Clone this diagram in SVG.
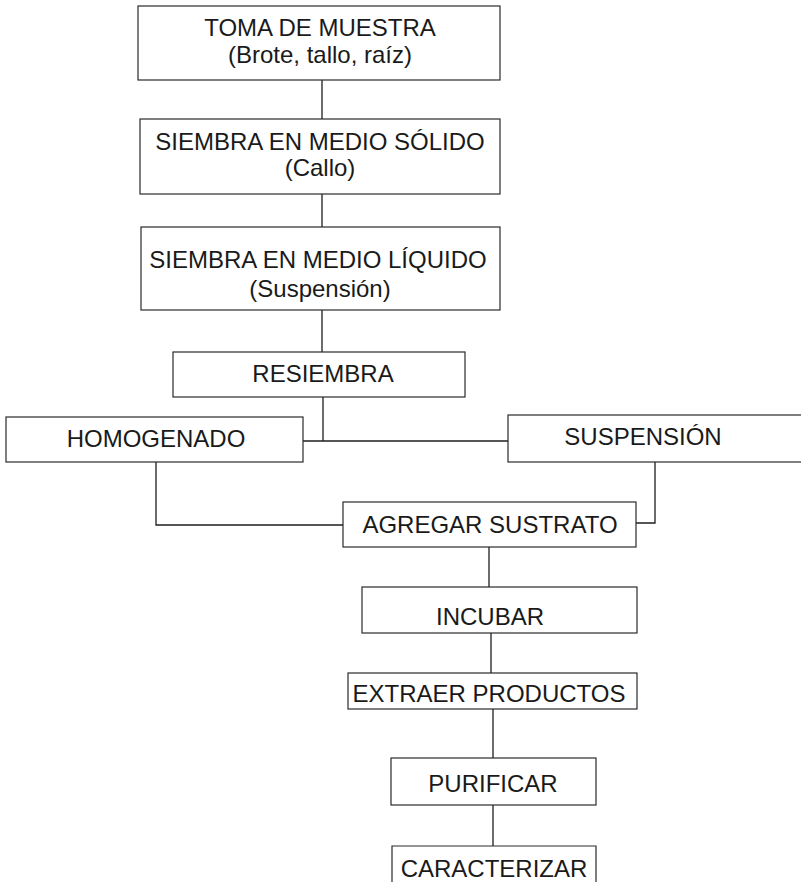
<svg xmlns="http://www.w3.org/2000/svg" width="801" height="890" viewBox="0 0 801 890">
<style>
  .box { fill: #ffffff; stroke: #2a2a2a; stroke-width: 1.2; }
  .lbl { font-family: "Liberation Sans", Arial, sans-serif; font-size: 24px; fill: #1a1a1a; text-anchor: middle; }
  .con { fill: none; stroke: #1e1e1e; stroke-width: 1.3; }
</style>
<rect x="0" y="0" width="801" height="890" fill="#ffffff"/>
<g id="connectors">
  <path class="con" d="M322,80 V119"/>
  <path class="con" d="M322,194 V227"/>
  <path class="con" d="M322,310 V352"/>
  <path class="con" d="M323,397 V441"/>
  <path class="con" d="M303,441 H508"/>
  <path class="con" d="M156,462 V525 H343"/>
  <path class="con" d="M655,462 V523 H636"/>
  <path class="con" d="M489,547 V587"/>
  <path class="con" d="M491,633 V673"/>
  <path class="con" d="M493,709 V758"/>
  <path class="con" d="M493,805 V846"/>
</g>
<g id="n1">
  <rect class="box" x="138" y="6" width="362" height="74"/>
  <text class="lbl" x="320" y="36">TOMA DE MUESTRA</text>
  <text class="lbl" x="320" y="63">(Brote, tallo, raíz)</text>
</g>
<g id="n2">
  <rect class="box" x="140" y="119" width="360" height="75"/>
  <text class="lbl" x="320" y="150">SIEMBRA EN MEDIO SÓLIDO</text>
  <text class="lbl" x="320" y="176">(Callo)</text>
</g>
<g id="n3">
  <rect class="box" x="141" y="227" width="359" height="83"/>
  <text class="lbl" x="318" y="268">SIEMBRA EN MEDIO LÍQUIDO</text>
  <text class="lbl" x="320" y="297">(Suspensión)</text>
</g>
<g id="n4">
  <rect class="box" x="173" y="352" width="292" height="45"/>
  <text class="lbl" x="323" y="382">RESIEMBRA</text>
</g>
<g id="n5">
  <rect class="box" x="6" y="417" width="297" height="45"/>
  <text class="lbl" x="156" y="447">HOMOGENADO</text>
</g>
<g id="n6">
  <rect class="box" x="508" y="415" width="305" height="47"/>
  <text class="lbl" x="643" y="445">SUSPENSIÓN</text>
</g>
<g id="n7">
  <rect class="box" x="343" y="502" width="293" height="45"/>
  <text class="lbl" x="490" y="533">AGREGAR SUSTRATO</text>
</g>
<g id="n8">
  <rect class="box" x="362" y="587" width="275" height="46"/>
  <text class="lbl" x="490" y="625">INCUBAR</text>
</g>
<g id="n9">
  <rect class="box" x="348" y="673" width="289" height="36"/>
  <text class="lbl" x="489" y="702">EXTRAER PRODUCTOS</text>
</g>
<g id="n10">
  <rect class="box" x="391" y="758" width="205" height="47"/>
  <text class="lbl" x="493" y="792">PURIFICAR</text>
</g>
<g id="n11">
  <path class="box" d="M392,882 V846 H596 V882"/>
  <text class="lbl" x="494" y="877">CARACTERIZAR</text>
</g>
</svg>
